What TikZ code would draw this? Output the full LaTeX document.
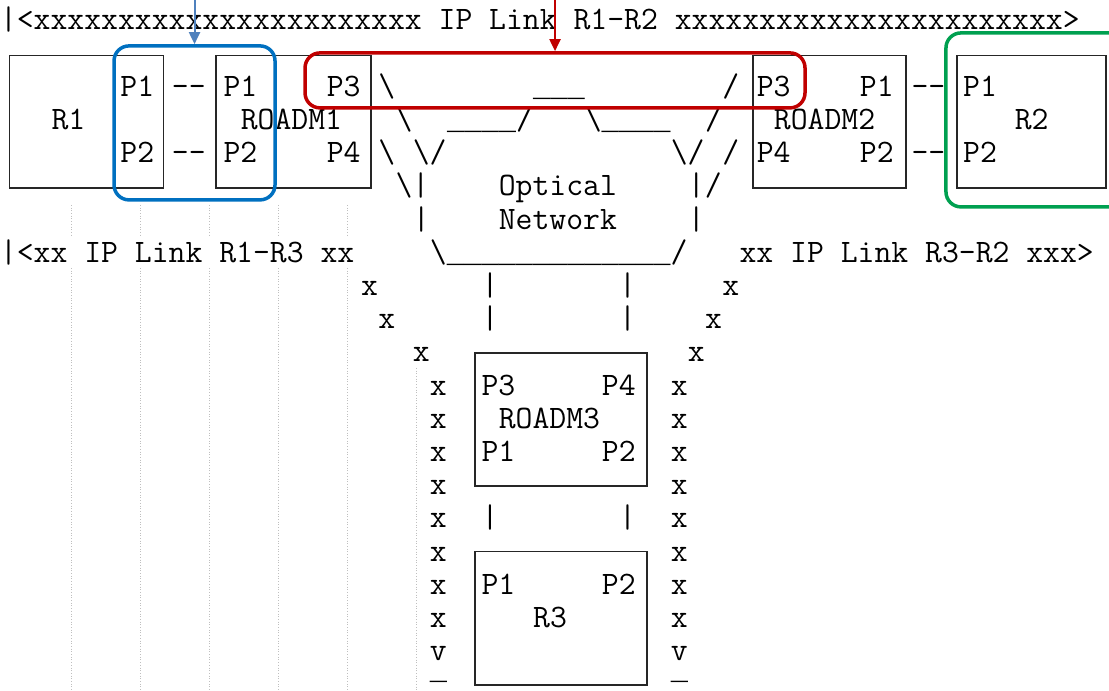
\documentclass[tikz,border=0pt]{standalone}
\usepackage{fontspec}
\newfontfamily\ulfont{Liberation Mono}
\newcommand\us{{\ulfont\fontsize{28.67pt}{38pt}\selectfont\_}}
\usetikzlibrary{arrows.meta}
\definecolor{hlblue}{RGB}{0,112,192}
\definecolor{hlred}{RGB}{192,0,0}
\definecolor{hlgreen}{RGB}{0,160,80}
\definecolor{arrblue}{RGB}{79,129,189}
\begin{document}
\begin{tikzpicture}[x=17.2pt, y=-33.2pt,
  asc/.style={font=\ttfamily\fontsize{32.76pt}{38pt}\selectfont, anchor=base west, inner sep=0pt, outer sep=0pt, yshift=-10pt},
  box/.style={draw=black!85, line width=1.3pt},
  hilite/.style={draw=#1, line width=3.5pt, rounded corners=15pt, inner sep=0pt},
  guide/.style={draw=black!25, dotted, line width=0.7pt},
  pointer/.style={draw=#1, line width=2pt, -{Triangle[length=12pt,width=11pt]}}]
\useasboundingbox (0,-0.602) rectangle (64.48,20.21);
% faint page guides
\foreach \gx in {4.13,8.14,12.15,16.16,20.17} {
  \draw[guide] (\gx,5.57) -- (\gx,6.54);
  \draw[guide] (\gx,7.47) -- (\gx,20.3);
}
\draw[guide] (24.19,10.48) -- (24.19,20.3);
\begin{scope}[every node/.style={asc}]
\node (lk12) at (0,0) {|<xxxxxxxxxxxxxxxxxxxxxxx IP Link R1-R2 xxxxxxxxxxxxxxxxxxxxxxx>};
% row of P1 ports
\node (r1p1) at (7,2) {P1};
\node (d11) at (10,2) {-{}-};
\node (o1p1) at (13,2) {P1};
\node (o1p3) at (19,2) {P3};
\node (c2a) at (22,2) {\textbackslash};
\node (c2b) at (31,2) {\us\us\us};
\node (c2c) at (42,2) {/};
\node (o2p3) at (44,2) {P3};
\node (o2p1) at (50,2) {P1};
\node (d21) at (53,2) {-{}-};
\node (r2p1) at (56,2) {P1};
% row of names
\node (r1) at (3,3) {R1};
\node (o1) at (14,3) {ROADM1};
\node (c3a) at (23,3) {\textbackslash};
\node (c3b) at (26,3) {\us\us\us\us/};
\node (c3c) at (34,3) {\textbackslash\us\us\us\us};
\node (c3d) at (41,3) {/};
\node (o2) at (45,3) {ROADM2};
\node (r2) at (59,3) {R2};
% row of P2 ports
\node (r1p2) at (7,4) {P2};
\node (d12) at (10,4) {-{}-};
\node (o1p2) at (13,4) {P2};
\node (o1p4) at (19,4) {P4};
\node (c4a) at (22,4) {\textbackslash};
\node (c4b) at (24,4) {\textbackslash/};
\node (c4c) at (39,4) {\textbackslash/};
\node (c4d) at (42,4) {/};
\node (o2p4) at (44,4) {P4};
\node (o2p2) at (50,4) {P2};
\node (d22) at (53,4) {-{}-};
\node (r2p2) at (56,4) {P2};
% optical network
\node (c5a) at (23,5) {\textbackslash|};
\node (optical) at (29,5) {Optical};
\node (c5b) at (40,5) {|/};
\node (c6a) at (24,6) {|};
\node (network) at (29,6) {Network};
\node (c6b) at (40,6) {|};
\node (lk13) at (0,7) {|<xx IP Link R1-R3 xx};
\node (c7) at (25,7) {\textbackslash\us\us\us\us\us\us\us\us\us\us\us\us\us/};
\node (lk32) at (43,7) {xx IP Link R3-R2 xxx>};
% down to R3
\node (xl8) at (21,8) {x};
\node (v8a) at (28,8) {|};
\node (v8b) at (36,8) {|};
\node (xr8) at (42,8) {x};
\node (xl9) at (22,9) {x};
\node (v9a) at (28,9) {|};
\node (v9b) at (36,9) {|};
\node (xr9) at (41,9) {x};
\node (xl10) at (24,10) {x};
\node (xr10) at (40,10) {x};
\foreach \r in {11,...,18} {
  \node (xl\r) at (25,\r) {x};
  \node (xr\r) at (39,\r) {x};
}
\node (o3p3) at (28,11) {P3};
\node (o3p4) at (35,11) {P4};
\node (o3) at (29,12) {ROADM3};
\node (o3p1) at (28,13) {P1};
\node (o3p2) at (35,13) {P2};
\node (v15a) at (28,15) {|};
\node (v15b) at (36,15) {|};
\node (r3p1) at (28,17) {P1};
\node (r3p2) at (35,17) {P2};
\node (r3) at (31,18) {R3};
\node (al) at (25,19) {v};
\node (ar) at (39,19) {v};
\node[yshift=14pt] (ul) at (25,20) {\us};
\node[yshift=14pt] (ur) at (39,20) {\us};
\end{scope}
\begin{scope}
\draw[box] (0.55,1.08) rectangle (9.5,5.06);
\draw[box] (12.55,1.08) rectangle (21.57,5.06);
\draw[box] (43.78,1.08) rectangle (52.67,5.06);
\draw[box] (55.64,1.08) rectangle (64.3,5.06);
\draw[box] (27.62,10.03) rectangle (37.62,14.04);
\draw[box] (27.62,16.02) rectangle (37.62,20.03);
\end{scope}
\begin{scope}
\node[hilite=hlblue, minimum width=161pt, minimum height=154pt] (grpa) at (11.31,3.10) {};
\node[hilite=hlred, minimum width=500pt, minimum height=55pt] (grpb) at (32.27,1.82) {};
\node[hilite=hlgreen, minimum width=184pt, minimum height=174pt] (grpc) at (60.35,3.01) {};
\coordinate (srca) at (11.31,-0.7);
\coordinate (srcb) at (32.27,-0.7);
\draw[pointer=arrblue] (srca) -- (grpa.north);
\draw[pointer=hlred] (srcb) -- (grpb.north);
\end{scope}
\end{tikzpicture}
\end{document}
